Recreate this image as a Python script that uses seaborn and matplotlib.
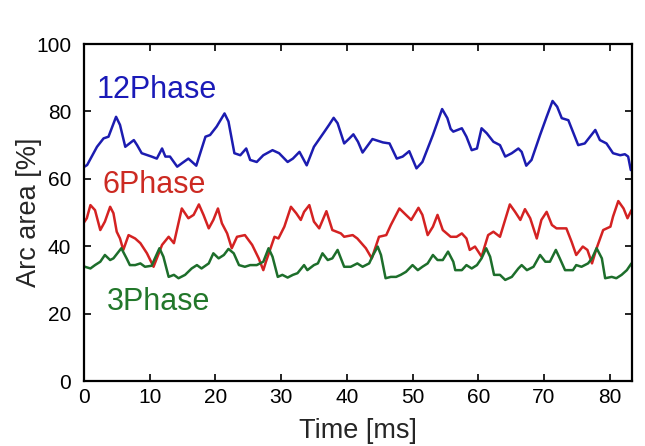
import matplotlib
matplotlib.use("Agg")
import matplotlib.pyplot as plt
import seaborn as sns
import pandas as pd

# ---- data ----
t12 = [0, 0.5, 2.0, 3.0, 3.75, 4.9, 5.5, 6.3, 7.6, 8.1, 8.8, 10.3, 11.1, 11.9, 12.4, 13.1, 14.2, 14.9, 15.9, 17.1,
       18.5, 19.2, 20.2, 21.4, 22.0, 22.9, 23.8, 24.7, 25.3, 26.3, 27.3, 28.7, 29.7, 31.0, 31.8, 32.8, 33.9, 35.0,
       36.6, 37.3, 38.0, 38.6, 39.6, 40.4, 41.0, 41.7, 42.4, 43.9, 45.5, 46.5, 47.6, 48.5, 49.5, 50.6, 51.5, 53.1,
       54.5, 55.3, 55.8, 56.2, 57.5, 58.2, 59.0, 59.8, 60.5, 61.3, 62.3, 63.3, 64.1, 65.1, 66.1, 66.6, 67.3, 68.1,
       69.4, 70.4, 71.3, 72.0, 72.7, 73.7, 75.2, 76.2, 77.0, 77.8, 78.5, 79.5, 80.5, 81.6, 82.3, 82.8, 83.2]
v12 = [63.5, 64.1, 69.5, 72, 72.5, 78.4, 76, 69.5, 71.5, 70, 67.6, 66.6, 66, 69, 66.6, 66.6, 63.6, 64.6, 66, 63.9,
       72.5, 73, 75.5, 79.4, 77, 67.6, 67, 69, 65.6, 65, 67, 68.5, 67.6, 65, 66, 68, 64, 69.5,
       74, 76, 78.1, 76.5, 70.5, 72, 73.2, 71, 67.8, 71.8, 70.8, 70.5, 66, 66.6, 68.2, 63.1, 65, 73,
       80.7, 78, 74.8, 74, 75, 72.5, 68.5, 69, 75, 73.5, 71, 70, 66.6, 67.6, 69, 68, 63.9, 65.6,
       73, 78.4, 83.1, 81.4, 78, 77.4, 70, 70.5, 72.5, 74.5, 71.5, 70.5, 67.6, 67, 67.3, 66.6, 62.6]

t6 = [0, 0.45, 1.0, 1.7, 2.5, 3.2, 4.0, 4.5, 5.0, 5.5, 6.0, 6.8, 7.8, 8.6, 9.6, 10.6, 11.9, 12.9, 13.7, 14.9,
      15.9, 16.7, 17.5, 18.2, 19.0, 19.7, 20.4, 21.0, 21.8, 22.5, 23.3, 24.5, 25.6, 26.6, 27.3, 27.7, 29.0, 29.6,
      30.5, 31.5, 32.3, 33.0, 33.5, 34.3, 35.0, 35.8, 36.9, 37.8, 39.1, 39.6, 40.9, 41.6, 42.9, 43.8, 44.9, 46.0,
      46.7, 48.0, 49.0, 49.8, 50.9, 51.5, 52.3, 53.1, 53.8, 54.6, 55.8, 56.7, 57.5, 58.2, 58.7, 59.5, 60.5, 61.5,
      62.3, 63.3, 64.8, 65.6, 66.4, 67.1, 67.9, 68.9, 69.6, 70.4, 71.2, 71.9, 73.4, 74.2, 74.9, 75.9, 76.6, 77.3,
      78.0, 79.0, 80.1, 80.5, 81.3, 82.1, 82.7, 83.3]
v6 = [47, 48.3, 52.2, 50.7, 44.8, 47.3, 51.7, 49.8, 44.3, 42.3, 38.9, 43.3, 42.3, 40.9, 37.9, 33.9, 40.4, 42.8, 40.9, 51.2,
      48.3, 49.3, 52.4, 49.3, 45.3, 47.8, 51.2, 46.8, 43.8, 39.4, 42.8, 43.3, 40.4, 36.4, 32.9, 35.4, 42.8, 42.3,
      45.8, 51.7, 49.8, 47.8, 50.2, 52.2, 47.3, 45.3, 50.4, 44.8, 43.8, 42.8, 43.3, 42.3, 39.4, 36.4, 42.8, 43.3,
      46.3, 51.2, 49.3, 47.8, 51.4, 49.3, 43.3, 45.8, 49.3, 44.8, 42.8, 42.8, 43.8, 42.3, 38.9, 39.9, 36.9, 43.3,
      44.3, 42.8, 52.4, 50.2, 47.8, 51, 48.3, 42.3, 47.8, 50.2, 46.3, 45.3, 45.3, 41.3, 37.4, 39.9, 38.9, 34.9,
      39.4, 44.8, 45.8, 48.8, 53.4, 51.2, 48.3, 50.7]

t3 = [0, 1.0, 1.7, 2.5, 3.2, 4.0, 4.5, 5.7, 6.5, 7.0, 7.8, 8.6, 9.3, 10.3, 11.5, 12.1, 12.9, 13.7, 14.4, 15.4,
      16.4, 17.2, 17.9, 19.0, 19.7, 20.5, 21.3, 22.0, 22.8, 23.6, 24.5, 25.3, 26.3, 27.3, 28.1, 28.7, 29.5, 30.2,
      31.0, 31.8, 32.5, 33.5, 34.0, 35.0, 35.6, 36.3, 37.1, 37.8, 38.6, 39.6, 40.6, 41.6, 42.4, 43.4, 44.0, 44.7,
      45.2, 45.9, 46.7, 47.5, 48.2, 49.0, 50.0, 50.8, 51.5, 52.3, 53.1, 53.8, 54.6, 55.4, 56.2, 56.5, 57.5, 58.2,
      59.0, 59.8, 60.5, 61.2, 61.8, 62.4, 63.3, 64.1, 65.1, 66.1, 66.6, 67.4, 68.4, 69.4, 70.2, 70.9, 71.8, 72.4,
      73.2, 74.4, 74.9, 75.7, 76.7, 77.3, 78.0, 78.8, 79.3, 80.3, 81.0, 81.8, 82.6, 83.3]
v3 = [34, 33.4, 34.4, 35.4, 37.4, 35.9, 36.4, 39.4, 36.4, 34.4, 34.4, 34.9, 33.9, 34.2, 39.4, 36.9, 30.9, 31.5, 30.5, 31.5,
      33.4, 34.4, 33.4, 34.9, 37.9, 36.4, 37.4, 39.2, 37.9, 34.4, 33.9, 34.4, 34.4, 35.4, 39.4, 36.9, 30.9, 31.5,
      30.7, 31.5, 32, 34.4, 32.9, 34.4, 34.9, 37.9, 35.9, 36.4, 38.9, 33.9, 33.9, 34.9, 33.9, 34.9, 37.4, 39.9,
      37.4, 30.5, 30.9, 30.9, 31.5, 32.4, 34.4, 32.9, 33.9, 34.9, 37.4, 35.9, 35.9, 38.4, 35.4, 32.9, 32.9, 34.4,
      33.4, 34.4, 36.4, 39.4, 36.9, 31.5, 31.5, 30, 30.9, 33.4, 34.4, 32.9, 33.9, 37.4, 35.4, 35.4, 38.9, 36.4,
      32.9, 32.9, 34.4, 33.9, 34.9, 36.4, 39.4, 36.4, 30.5, 30.9, 30.5, 31.5, 32.9, 34.9]

series_names = ["12Phase", "6Phase", "3Phase"]
series_colors = ["#1c1cb0", "#d42222", "#1d6e2b"]
label_colors = ["#1a1ab8", "#cc2a22", "#22772a"]
label_pos = [(2.0, 86.5), (2.9, 58.2), (3.5, 23.4)]
x_ticks = [0, 10, 20, 30, 40, 50, 60, 70, 80]
y_ticks = [0, 20, 40, 60, 80, 100]

sns.set_style("ticks")
plt.rcParams['font.family'] = ['Liberation Sans', 'DejaVu Sans']

fig = plt.figure(figsize=(6.45, 4.46), dpi=100)
ax = fig.add_axes([0.130, 0.1457, 0.850, 0.7556])

for (tt, vv), col in zip([(t12, v12), (t6, v6), (t3, v3)], series_colors):
    df = pd.DataFrame({"t": tt, "v": vv})
    sns.lineplot(data=df, x="t", y="v", color=col, linewidth=1.8, ax=ax, sort=False)

for name, col, (px, py) in zip(series_names, label_colors, label_pos):
    ax.text(px, py, name, color=col, fontsize=22, ha="left", va="center")

ax.set_xlim(0, 83.4)
ax.set_ylim(0, 100)
ax.set_xticks(x_ticks)
ax.set_yticks(y_ticks)
ax.tick_params(direction="in", length=5, width=1.2, top=True, right=True,
               labelsize=15, colors="black")
ax.tick_params(axis="y", pad=9)
ax.tick_params(axis="x", pad=5)
for s in ax.spines.values():
    s.set_linewidth(1.6)
    s.set_color("black")
ax.set_xlabel("Time [ms]", fontsize=19.5, labelpad=8)
ax.set_ylabel("Arc area [%]", fontsize=19.5, labelpad=-4)

fig.savefig("out.png", dpi=100)
